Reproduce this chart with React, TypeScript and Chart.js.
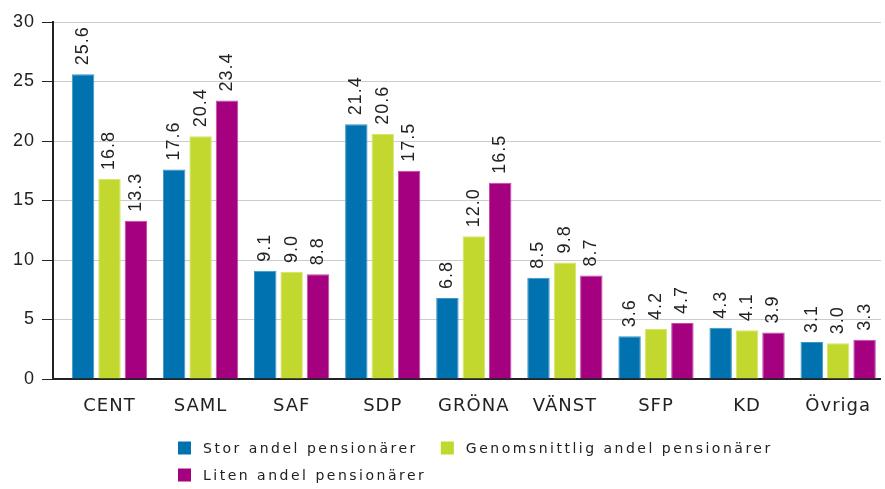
import React, { useEffect, useRef } from "react";
import { Chart, registerables } from "chart.js";

Chart.register(...registerables);

const categories = ["CENT", "SAML", "SAF", "SDP", "GRÖNA", "VÄNST", "SFP", "KD", "Övriga"];
const seriesNames = ["Stor andel pensionärer", "Genomsnittlig andel pensionärer", "Liten andel pensionärer"];
const storAndel = [25.6, 17.6, 9.1, 21.4, 6.8, 8.5, 3.6, 4.3, 3.1];
const genomsnittligAndel = [16.8, 20.4, 9.0, 20.6, 12.0, 9.8, 4.2, 4.1, 3.0];
const litenAndel = [13.3, 23.4, 8.8, 17.5, 16.5, 8.7, 4.7, 3.9, 3.3];
const yTicks = [0, 5, 10, 15, 20, 25, 30];
const colors = ["#0072b0", "#c2d82e", "#a4007f"];
const borderColors = ["#3d95c6", "#d6e66a", "#c24aa6"];

const spacingPlugin = {
  id: "spacing",
  beforeDraw(chart: any) {
    (chart.ctx as any).letterSpacing = "1px";
  },
  afterDraw(chart: any) {
    (chart.ctx as any).letterSpacing = "0px";
  },
};

const valueLabelPlugin = {
  id: "valueLabels",
  afterDatasetsDraw(chart: any) {
    const ctx = chart.ctx;
    ctx.save();
    ctx.font = "18px 'Liberation Sans', Arial, sans-serif";
    (ctx as any).letterSpacing = "1px";
    ctx.fillStyle = "#222";
    ctx.textAlign = "left";
    ctx.textBaseline = "middle";
    chart.data.datasets.forEach((ds: any, i: number) => {
      const meta = chart.getDatasetMeta(i);
      meta.data.forEach((bar: any, j: number) => {
        const v = ds.data[j].y;
        ctx.save();
        ctx.translate(bar.x, bar.y - 9);
        ctx.rotate(-Math.PI / 2);
        ctx.fillText(v.toFixed(1), 0, 0);
        ctx.restore();
      });
    });
    ctx.restore();
  },
};

const legendPlugin = {
  id: "customLegend",
  afterDraw(chart: any) {
    const ctx = chart.ctx;
    ctx.save();
    ctx.font = "14px 'DejaVu Sans', sans-serif";
    (ctx as any).letterSpacing = "2.5px";
    ctx.textBaseline = "middle";
    ctx.textAlign = "left";
    const startX = 178;
    const rowY = [449, 476];
    const box = 13;
    const ds = chart.data.datasets;
    const w0 = ctx.measureText(ds[0].label).width;
    const col2X = startX + box + 12 + w0 + 23;
    const positions = [
      [startX, rowY[0]],
      [col2X, rowY[0]],
      [startX, rowY[1]],
    ];
    ds.forEach((d: any, i: number) => {
      const [x, y] = positions[i];
      ctx.fillStyle = d.backgroundColor;
      ctx.fillRect(x, y - box / 2 - 1, box, box);
      ctx.fillStyle = "#222";
      ctx.fillText(d.label, x + box + 12, y);
    });
    ctx.restore();
  },
};

export default function App() {
  const canvasRef = useRef<HTMLCanvasElement | null>(null);

  useEffect(() => {
    const data = [storAndel, genomsnittligAndel, litenAndel];
    const chart = new Chart(canvasRef.current as HTMLCanvasElement, {
      type: "bar",
      data: {
        datasets: data.map((d, i) => ({
          label: seriesNames[i],
          data: d.map((v, k) => ({ x: k, y: v })),
          backgroundColor: colors[i],
          borderColor: borderColors[i],
          borderWidth: 1,
          categoryPercentage: 0.87,
          barPercentage: 0.85,
        })),
      },
      options: {
        animation: false,
        responsive: false,
        maintainAspectRatio: false,
        layout: { padding: { top: 22, right: 0, left: 0, bottom: 0 } },
        plugins: {
          legend: { display: false },
          tooltip: { enabled: false },
        },
        scales: {
          x: {
            type: "linear",
            offset: false,
            min: -0.62,
            max: 8.47,
            afterBuildTicks(scale: any) {
              scale.ticks = categories.map((_, i) => ({ value: i }));
            },
            grid: { display: false, drawTicks: false, offset: false },
            border: { display: true, color: "#222", width: 2 },
            ticks: {
              padding: 17,
              color: "#222",
              font: { family: "'DejaVu Sans', sans-serif", size: 18 },
              maxRotation: 0,
              autoSkip: false,
              callback: (_v: any, i: number) => categories[i],
            },
            afterFit(scale: any) {
              scale.height = 110;
            },
          },
          y: {
            min: 0,
            max: 30,
            afterBuildTicks(scale: any) {
              scale.ticks = yTicks.map((v) => ({ value: v }));
            },
            ticks: {
              padding: 7,
              color: "#222",
              font: { family: "'Liberation Sans', Arial, sans-serif", size: 18 },
            },
            grid: { color: "#cccccc", tickColor: "#222", tickLength: 11, lineWidth: 1 },
            border: { display: true, color: "#222", width: 2 },
            afterFit(scale: any) {
              scale.width = 53;
            },
          },
        },
      },
      plugins: [spacingPlugin, valueLabelPlugin, legendPlugin],
    });
    return () => chart.destroy();
  }, []);

  return (
    <div style={{ position: "absolute", left: 0, top: 0, width: 885, height: 489, background: "#fff" }}>
      <canvas ref={canvasRef} width={885} height={489} style={{ width: 885, height: 489 }} />
    </div>
  );
}
